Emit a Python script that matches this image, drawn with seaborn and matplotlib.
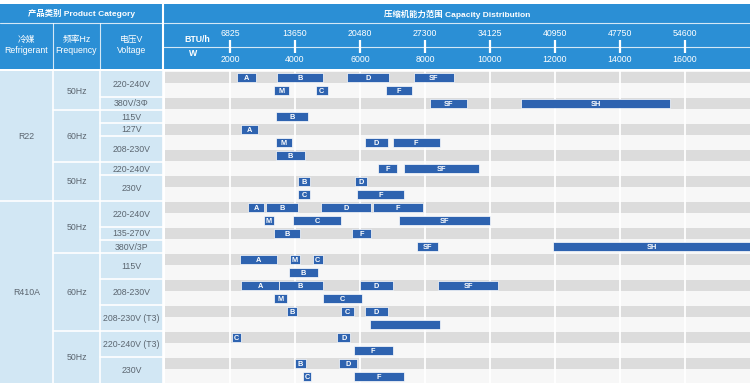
import pandas as pd
import matplotlib.pyplot as plt
import seaborn as sns
from matplotlib.patches import Rectangle

# ---- data ----
watt_ticks = [2000, 4000, 6000, 8000, 10000, 12000, 14000, 16000]
btu_ticks = ['6825', '13650', '20480', '27300', '34125', '40950', '47750', '54600']

ref_groups = ['R22', 'R410A']
ref_rows = [10, 14]
freq_groups = ['50Hz', '60Hz', '50Hz', '50Hz', '60Hz', '50Hz']
freq_rows = [3, 4, 3, 4, 6, 4]
volt_groups = ['220-240V', '380V/3Φ', '115V', '127V', '208-230V', '220-240V', '230V',
               '220-240V', '135-270V', '380V/3P', '115V', '208-230V', '208-230V (T3)',
               '220-240V (T3)', '230V']
volt_rows = [2, 1, 1, 1, 2, 1, 2, 2, 1, 1, 2, 2, 2, 2, 2]

# one entry per compressor bar: row index, series label, capacity range in W
bar_row = [0, 0, 0, 0, 1, 1, 1, 2, 2, 3, 4, 5, 5, 5, 6, 7, 7, 8, 8, 9, 9,
           10, 10, 10, 10, 11, 11, 11, 12, 12, 13, 13, 14, 14, 14, 15,
           16, 16, 16, 16, 17, 17, 18, 18, 18, 19, 20, 20, 21, 22, 22, 23, 23]
bar_label = ['A', 'B', 'D', 'SF', 'M', 'C', 'F', 'SF', 'SH', 'B', 'A', 'M', 'D', 'F', 'B',
             'F', 'SF', 'B', 'D', 'C', 'F',
             'A', 'B', 'D', 'F', 'M', 'C', 'SF', 'B', 'F', 'SF', 'SH', 'A', 'M', 'C', 'B',
             'A', 'B', 'D', 'SF', 'M', 'C', 'B', 'C', 'D', '', 'C', 'D', 'F', 'B', 'D', 'C', 'F']
bar_start = [2200, 3450, 5600, 7650, 3350, 4650, 6800, 8150, 10950, 3400, 2350, 3400, 6150, 7000,
             3400, 6550, 7350, 4100, 5850, 4100, 5900,
             2550, 3100, 4800, 6400, 3050, 3950, 7200, 3350, 5750, 7750, 11950, 2300, 3850, 4550,
             3800, 2350, 3500, 6000, 8400, 3350, 4850, 3750, 5400, 6150, 6300, 2050, 5300, 5800,
             4000, 5350, 4250, 5800]
bar_end = [2800, 4850, 6900, 8900, 3800, 5000, 7600, 9300, 15550, 4400, 2850, 3900, 6850, 8450,
           4300, 7150, 9650, 4450, 6200, 4450, 7350,
           3050, 4100, 6350, 7950, 3350, 5400, 10000, 4150, 6350, 8400, 18000, 3450, 4150, 4850,
           4700, 3500, 4850, 7000, 10250, 3750, 6050, 4050, 5800, 6850, 8450, 2350, 5700, 7000,
           4350, 5900, 4500, 7350]

bars = pd.DataFrame({'row': bar_row, 'label': bar_label, 'start': bar_start, 'end': bar_end})
n_rows = sum(ref_rows)

# ---- style ----
sns.set_theme(style='white')
plt.rcParams['font.family'] = ['Liberation Sans', 'Noto Sans CJK SC', 'DejaVu Sans']

HEAD = '#2b8fd5'
CELL = '#d2e7f4'
GRAY = '#dcdcdc'
LIGHT = '#f7f7f7'
BAR = '#2e63b0'
TXT = '#5c6670'

W, H = 750, 388
fig = plt.figure(figsize=(7.5, 3.88), dpi=100)
fig.patch.set_facecolor('white')

# pixel-space overlay for header band and left category table
bg = fig.add_axes([0, 0, 1, 1])
bg.set_xlim(0, W)
bg.set_ylim(H, 0)
bg.axis('off')

top, head_bot, body_top, body_bot = 4, 69, 71, 383
row_h = (body_bot - body_top) / n_rows
col_x = [0, 53, 100, 163]

bg.add_patch(Rectangle((0, top), W, head_bot - top, color=HEAD, lw=0))
bg.plot([0, W], [23, 23], color='white', lw=0.8, alpha=0.8)
bg.plot([163, W], [47, 47], color='white', lw=0.8, alpha=0.8)
for x in col_x[1:3]:
    bg.plot([x, x], [23, head_bot], color='white', lw=0.8, alpha=0.8)
bg.plot([163, 163], [top, head_bot], color='white', lw=1.5)
bg.text(82, 14, '产品类别 Product Category', color='white', fontsize=6, ha='center',
        va='center', fontweight='semibold')
head_cols = ['冷媒\nRefrigerant', '频率Hz\nFrequency', '电压V\nVoltage']
for i, t in enumerate(head_cols):
    bg.text((col_x[i] + col_x[i + 1]) / 2, 45, t, color='white', fontsize=6.3,
            ha='center', va='center', linespacing=1.3)

# left category table
bg.add_patch(Rectangle((0, body_top), 163, body_bot - body_top, color=CELL, lw=0))
for x in col_x[1:]:
    bg.plot([x, x], [body_top, body_bot], color='white', lw=1.2)


def draw_groups(names, counts, x0, x1):
    y = body_top
    for name, n in zip(names, counts):
        y_end = y + n * row_h
        bg.text((x0 + x1) / 2, (y + y_end) / 2 + 0.5, name, color=TXT, fontsize=6.3,
                ha='center', va='center')
        if y_end < body_bot - 1:
            bg.plot([x0, x1], [y_end, y_end], color='white', lw=1.2)
        y = y_end


draw_groups(ref_groups, ref_rows, 0, 53)
draw_groups(freq_groups, freq_rows, 53, 100)
draw_groups(volt_groups, volt_rows, 100, 163)

# ---- main capacity chart ----
ax = fig.add_axes([165 / W, (H - body_bot) / H, (W - 165) / W, (body_bot - body_top) / H])
ax.set_xlim(0, 18000)
ax.set_ylim(n_rows, 0)
ax.set_facecolor(LIGHT)
for r in range(0, n_rows, 2):
    ax.axhspan(r + 0.04, r + 0.96, color=GRAY, lw=0, zorder=0)
for x in watt_ticks:
    ax.axvline(x, color='white', lw=1.3, zorder=1)

ax.barh(bars['row'] + 0.5, bars['end'] - bars['start'], left=bars['start'], height=0.66,
        color=BAR, edgecolor='white', linewidth=0.5, zorder=2)
for _, b in bars.iterrows():
    ax.text((b['start'] + b['end']) / 2, b['row'] + 0.55, b['label'], color='white',
            fontsize=5.3, fontweight='bold', ha='center', va='center', zorder=3)
ax.set_xticks([])
ax.set_yticks([])
sns.despine(ax=ax, left=True, bottom=True)

# ---- header scale (shares the capacity axis) ----
hx = fig.add_axes([165 / W, (H - head_bot) / H, (W - 165) / W, (head_bot - top) / H], sharex=ax)
hx.set_ylim(head_bot, top)
hx.patch.set_alpha(0)
hx.axis('off')
hx.vlines(watt_ticks, 40, 53, color='white', lw=1.6)
for x, btu in zip(watt_ticks, btu_ticks):
    hx.text(x, 33, btu, color='white', fontsize=6.3, ha='center', va='center')
    hx.text(x, 60, str(x), color='white', fontsize=6.3, ha='center', va='center')
hx.text(1000, 39, 'BTU/h', color='white', fontsize=6.3, ha='center', va='center',
        fontweight='semibold')
hx.text(860, 54, 'W', color='white', fontsize=6.3, ha='center', va='center',
        fontweight='semibold')
hx.text(8980, 14, '压缩机能力范围 Capacity Distribution', color='white', fontsize=6,
        ha='center', va='center', fontweight='semibold')

fig.savefig('out.png', dpi=100)
